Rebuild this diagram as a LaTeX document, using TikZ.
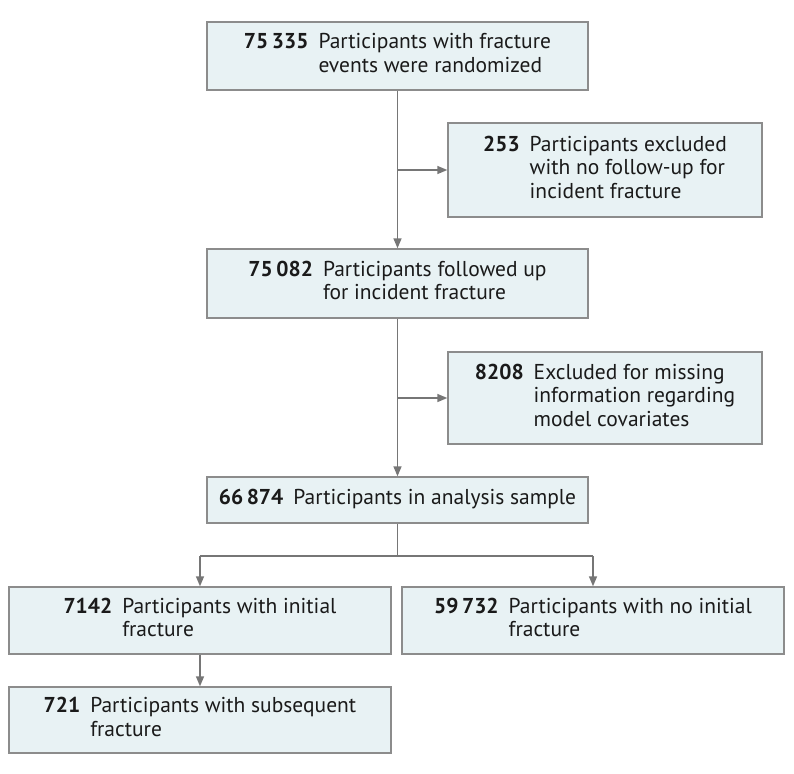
\documentclass[tikz,border=0pt]{standalone}
\usepackage{fontspec}
\setmainfont{PT Sans}
\usetikzlibrary{arrows.meta}
\definecolor{boxfill}{HTML}{E8F2F4}
\definecolor{boxline}{HTML}{8C8C8C}
\definecolor{conn}{HTML}{767676}
\definecolor{txt}{HTML}{1A1A1A}
\newcommand{\entry}[2]{\begin{tabular}{@{}l@{\hspace{10pt}}l@{}}\textbf{#1} & #2\end{tabular}}
\begin{document}
\begin{tikzpicture}[x=1pt,y=-1pt,
  flowbox/.style={draw=boxline, line width=1.4pt, fill=boxfill, text=txt,
    font=\fontsize{21.5}{23.5}\selectfont, inner sep=0pt, anchor=center},
  conline/.style={draw=conn, line width=1.5pt},
  arr/.style={conline, -{Triangle[length=10pt,width=8pt]}}]
\useasboundingbox (0,0) rectangle (794,773);
\node[flowbox, minimum width=381pt, minimum height=68pt] (b1) at (397.5,56)
  {\entry{75\,335}{Participants with fracture\\ & events were randomized}};
\node[flowbox, minimum width=314pt, minimum height=94pt] (b2) at (605,170)
  {\entry{253}{Participants excluded\\ & with no follow-up for\\ & incident fracture}};
\node[flowbox, minimum width=381pt, minimum height=69pt] (b3) at (397.5,283.5)
  {\entry{75\,082}{Participants followed up\\ & for incident fracture}};
\node[flowbox, minimum width=314pt, minimum height=92pt] (b4) at (605,398)
  {\entry{8208}{Excluded for missing\\ & information regarding\\ & model covariates}};
\node[flowbox, minimum width=381pt, minimum height=46pt] (b5) at (397.5,500)
  {\entry{66\,874}{Participants in analysis sample}};
\node[flowbox, minimum width=382pt, minimum height=67pt] (b6) at (200,620.5)
  {\entry{7142}{Participants with initial\\ & fracture}};
\node[flowbox, minimum width=382pt, minimum height=67pt] (b7) at (593,620.5)
  {\entry{59\,732}{Participants with no initial\\ & fracture}};
\node[flowbox, minimum width=382pt, minimum height=66pt] (b8) at (200,720)
  {\entry{721}{Participants with subsequent\\ & fracture}};
\coordinate (j1) at (b1.south |- b2.west);
\coordinate (j2) at (b3.south |- b4.west);
\coordinate (s) at (397.5,556);
\coordinate (sl) at (b6.north |- s);
\coordinate (sr) at (b7.north |- s);
\draw[arr] (b1.south) -- (b3.north);
\draw[arr] (j1) -- (b2.west);
\draw[arr] (b3.south) -- (b5.north);
\draw[arr] (j2) -- (b4.west);
\draw[conline] (b5.south) -- (s);
\draw[conline] (sl) -- (sr);
\draw[arr] (sl) -- (b6.north);
\draw[arr] (sr) -- (b7.north);
\draw[arr] (b6.south) -- (b8.north);
\end{tikzpicture}
\end{document}
